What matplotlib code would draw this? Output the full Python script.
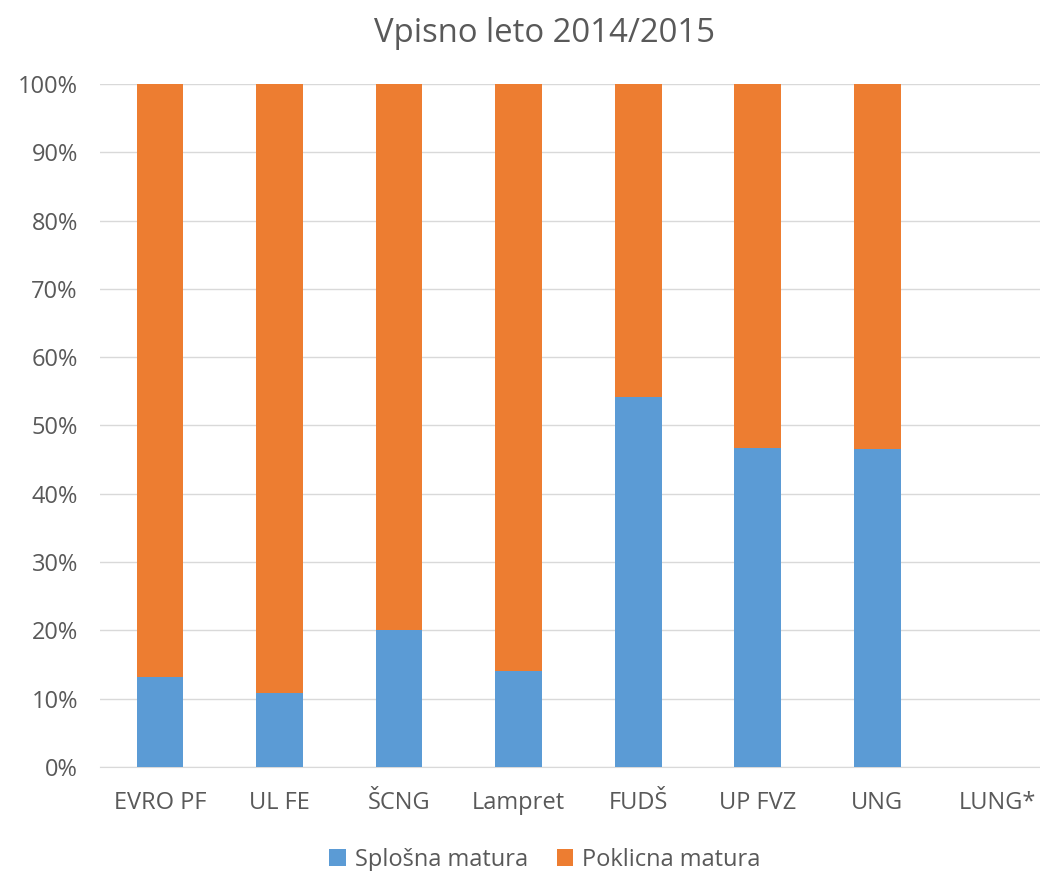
import numpy as np
import matplotlib
matplotlib.use("Agg")
import matplotlib.pyplot as plt
from matplotlib.ticker import PercentFormatter

plt.rcParams['font.family'] = ['Open Sans', 'DejaVu Sans']

categories = ['EVRO PF', 'UL FE', 'ŠCNG', 'Lampret', 'FUDŠ', 'UP FVZ', 'UNG', 'LUNG*']
splosna = [13.2, 10.8, 20.0, 14.1, 54.1, 46.7, 46.5, 0.0]
poklicna = [86.8, 89.2, 80.0, 85.9, 45.9, 53.3, 53.5, 0.0]

BLUE = '#5B9BD5'
ORANGE = '#ED7D31'
TEXT = '#595959'

fig = plt.figure(figsize=(10.4, 8.71), dpi=100)
ax = fig.add_axes([0.0962, 0.1194, 0.9038, 0.7842])

x = np.arange(len(categories))
w = 0.39
ax.bar(x, splosna, w, color=BLUE, label='Splošna matura', zorder=3)
ax.bar(x, poklicna, w, bottom=splosna, color=ORANGE, label='Poklicna matura', zorder=3)

ax.set_ylim(0, 100)
ax.set_xlim(-0.5, 7.36)
ax.set_yticks(np.arange(0, 101, 10))
ax.yaxis.set_major_formatter(PercentFormatter(decimals=0))
ax.grid(axis='y', color='#D9D9D9', linewidth=1, zorder=0)
ax.set_xticks(x)
ax.set_xticklabels(categories)
ax.tick_params(axis='both', length=0, labelsize=17, colors=TEXT)
ax.tick_params(axis='x', pad=17)
ax.tick_params(axis='y', pad=16)
for s in ['top', 'right', 'left']:
    ax.spines[s].set_visible(False)
ax.spines['bottom'].set_color('#D9D9D9')

fig.suptitle('Vpisno leto 2014/2015', fontsize=23.7, color=TEXT, x=0.524, y=0.981)

leg = fig.legend(loc='lower center', bbox_to_anchor=(0.524, -0.025), ncol=2, frameon=False,
                 fontsize=17, handlelength=0.7, handleheight=0.7, columnspacing=1.2,
                 handletextpad=0.4)
for t in leg.get_texts():
    t.set_color(TEXT)

fig.savefig('out.png', dpi=100)
